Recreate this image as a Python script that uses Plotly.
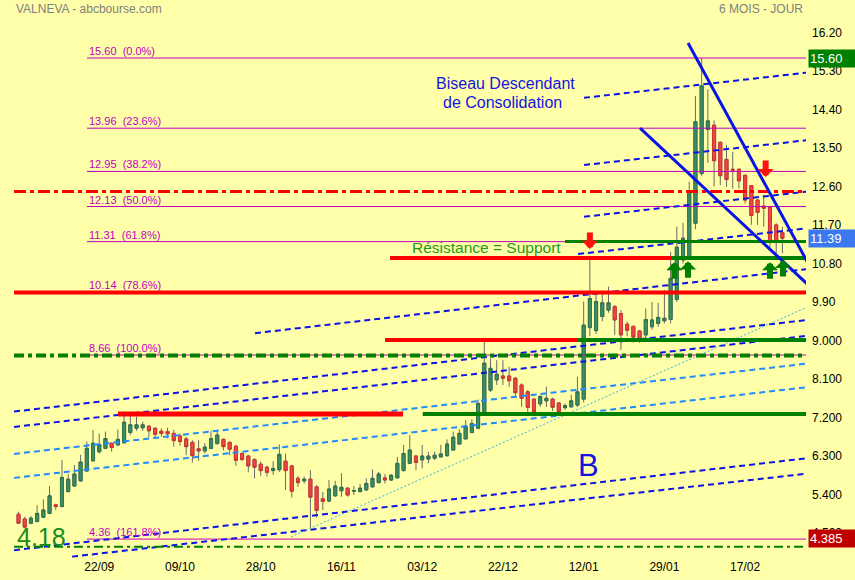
import pandas as pd
import plotly.graph_objects as go

# ---------------- data ----------------
dates = [d for d in pd.bdate_range("2020-09-03", "2021-02-25")
         if d.strftime("%m-%d") not in ("12-25", "01-01")]
date_labels = [d.strftime("%d/%m") for d in dates]

opens = [4.94, 4.83, 4.73, 4.77, 4.87, 4.96, 5.16, 5.12, 5.47, 5.60,
         5.72, 5.95, 6.19, 6.40, 6.48, 6.60, 6.56, 6.61, 6.85, 6.95,
         6.96, 7.00, 6.95, 6.88, 6.87, 6.83, 6.77, 6.70, 6.62, 6.47,
         6.42, 6.48, 6.59, 6.69, 6.62, 6.53, 6.36, 6.30, 6.22, 6.11,
         6.04, 5.96, 5.98, 6.18, 6.07, 5.78, 5.72, 5.76, 5.58, 5.30,
         5.25, 5.37, 5.49, 5.55, 5.48, 5.47, 5.51, 5.58, 5.68, 5.79,
         5.74, 5.79, 5.96, 6.13, 6.30, 6.21, 6.23, 6.25, 6.28, 6.31,
         6.44, 6.58, 6.70, 6.85, 6.95, 7.30, 7.84, 8.08, 8.17, 8.17,
         8.12, 7.96, 7.80, 7.63, 7.52, 7.59, 7.63, 7.54, 7.43, 7.45,
         7.49, 7.63, 9.30, 9.23, 9.56, 9.71, 9.79, 9.63, 9.38, 9.33,
         9.22, 9.13, 9.32, 9.40, 9.46, 9.49, 9.96, 10.88, 10.96, 11.74,
         12.90, 13.93, 14.03, 13.63, 13.23, 13.00, 13.00, 12.86, 12.62, 12.28,
         12.14, 12.11, 11.70, 11.52]
highs = [5.00, 4.88, 4.90, 5.15, 5.29, 5.60, 5.19, 6.21, 5.88, 6.09,
         6.33, 6.64, 6.91, 6.83, 6.87, 6.61, 6.92, 7.34, 7.24, 7.22,
         7.10, 7.02, 6.97, 6.95, 6.96, 6.91, 6.83, 6.75, 6.67, 6.67,
         6.60, 6.89, 6.91, 6.71, 6.64, 6.56, 6.39, 6.32, 6.25, 6.17,
         6.07, 6.18, 6.57, 6.36, 6.09, 5.83, 5.82, 5.97, 5.62, 5.46,
         5.74, 5.72, 5.90, 5.57, 5.60, 5.65, 5.78, 5.99, 5.93, 5.88,
         5.88, 6.28, 6.56, 6.79, 6.32, 6.56, 6.40, 6.40, 6.56, 6.69,
         6.87, 6.92, 7.14, 7.16, 7.62, 8.97, 8.58, 8.54, 8.54, 8.39,
         8.14, 8.00, 7.84, 7.63, 7.73, 7.92, 7.66, 7.56, 7.53, 7.73,
         8.15, 9.91, 10.90, 10.14, 10.10, 10.26, 9.83, 9.71, 9.44, 9.35,
         9.25, 9.75, 9.90, 9.88, 10.18, 11.07, 11.66, 11.75, 12.71, 14.71,
         15.60, 14.87, 14.14, 13.65, 13.57, 13.41, 13.02, 12.87, 12.63, 12.30,
         12.40, 12.13, 11.74, 11.66]
lows = [4.72, 4.61, 4.72, 4.75, 4.85, 4.94, 5.04, 5.10, 5.45, 5.58,
        5.70, 5.93, 6.17, 6.36, 6.46, 6.40, 6.54, 6.59, 6.79, 6.89,
        6.89, 6.74, 6.71, 6.75, 6.71, 6.52, 6.54, 6.32, 6.15, 6.19,
        6.36, 6.46, 6.57, 6.43, 6.32, 6.07, 6.18, 5.92, 5.78, 5.84,
        5.82, 5.86, 5.93, 5.51, 5.33, 5.58, 5.66, 4.62, 4.86, 5.04,
        5.22, 5.35, 5.35, 5.35, 5.39, 5.45, 5.49, 5.57, 5.66, 5.66,
        5.72, 5.78, 5.94, 6.11, 5.97, 6.01, 6.13, 6.21, 6.27, 6.28,
        6.44, 6.57, 6.70, 6.83, 6.93, 7.25, 7.80, 7.96, 7.96, 7.92,
        7.69, 7.45, 7.30, 7.30, 7.45, 7.45, 7.35, 7.31, 7.38, 7.43,
        7.45, 7.55, 9.10, 9.15, 9.45, 9.65, 9.13, 8.78, 9.10, 8.95,
        8.95, 9.05, 9.25, 9.32, 9.40, 9.40, 9.90, 10.80, 10.90, 11.60,
        12.85, 13.15, 12.60, 12.63, 12.59, 12.55, 12.55, 12.20, 11.70, 11.70,
        11.66, 11.11, 11.04, 11.04]
closes = [4.73, 4.64, 4.85, 4.96, 5.04, 5.37, 5.12, 5.80, 5.76, 5.88,
          6.16, 6.48, 6.60, 6.57, 6.71, 6.50, 6.69, 7.09, 7.03, 7.03,
          7.03, 6.89, 6.81, 6.83, 6.82, 6.66, 6.64, 6.52, 6.31, 6.42,
          6.51, 6.71, 6.79, 6.52, 6.46, 6.20, 6.22, 6.07, 6.04, 5.96,
          5.92, 6.01, 6.34, 5.96, 5.48, 5.68, 5.76, 5.34, 5.03, 5.24,
          5.53, 5.60, 5.57, 5.39, 5.49, 5.55, 5.66, 5.78, 5.88, 5.74,
          5.85, 6.13, 6.36, 6.44, 6.15, 6.30, 6.30, 6.32, 6.35, 6.58,
          6.74, 6.83, 7.00, 7.06, 7.53, 8.47, 8.35, 8.21, 8.12, 8.06,
          7.78, 7.65, 7.44, 7.34, 7.69, 7.65, 7.44, 7.34, 7.48, 7.59,
          7.80, 9.36, 9.98, 9.91, 9.88, 9.88, 9.48, 9.13, 9.24, 9.08,
          9.02, 9.49, 9.48, 9.54, 9.52, 10.45, 11.18, 11.39, 12.48, 14.11,
          14.95, 14.13, 13.20, 12.85, 12.76, 12.98, 12.73, 12.28, 11.92, 11.99,
          12.09, 11.31, 11.31, 11.39]

tick_labels = ["22/09", "09/10", "28/10", "16/11", "03/12", "22/12", "12/01", "29/01", "17/02"]
y_tick_values = [16.2, 15.3, 14.4, 13.5, 12.6, 11.7, 10.8, 9.9, 9.0, 8.1, 7.2, 6.3, 5.4, 4.5]
y_tick_text = ["16.20", "15.30", "14.40", "13.50", "12.60", "11.70", "10.80", "9.90",
               "9.000", "8.100", "7.200", "6.300", "5.400", "4.500"]

fib_levels = [15.60, 13.96, 12.95, 12.13, 11.31, 10.14, 8.66, 4.36]
fib_pcts = ["0.0%", "23.6%", "38.2%", "50.0%", "61.8%", "78.6%", "100.0%", "161.8%"]

X_END = 127.0
# channel lines: (x0, y0, x1, y1)
dark_channels = [(91.06, 14.67, X_END, 15.26), (91.06, 13.10, X_END, 13.68),
                 (91.06, 11.89, X_END, 12.48), (90.10, 11.02, X_END, 11.62),
                 (38.08, 9.17, X_END, 10.67), (-0.72, 7.34, X_END, 9.48),
                 (-0.72, 6.98, X_END, 9.11), (-0.72, 4.10, X_END, 6.25),
                 (8.62, 3.95, X_END, 5.89)]
light_channels = [(-0.72, 6.35, X_END, 8.46), (-0.72, 5.79, X_END, 7.91)]
dotted_trend = (43.88, 4.41, X_END, 9.78)
wedge_lines = [(107.81, 15.95, X_END, 10.84), (100.08, 13.96, X_END, 10.32)]

# horizontal levels: (x0, x1, price, colour, width, dash)
h_levels = [
    (-0.72, X_END, 12.48, "#ff0000", 3, "12px,4px,4px,4px"),
    (-0.72, X_END, 8.65, "#008000", 4, "10px,4px,4px,4px"),
    (-0.72, X_END, 4.18, "#008000", 2, "9px,4px,3px,4px"),
    (-0.72, X_END, 10.12, "#ff0000", 4, "solid"),
    (59.82, 105.07, 10.93, "#ff0000", 4, "solid"),
    (105.07, X_END, 10.93, "#008000", 4, "solid"),
    (88.0, X_END, 11.31, "#008000", 3, "solid"),
    (59.02, 90.10, 9.01, "#ff0000", 4, "solid"),
    (90.10, X_END, 9.01, "#008000", 4, "solid"),
    (16.02, 61.92, 7.28, "#ff0000", 5, "solid"),
    (65.09, X_END, 7.28, "#008000", 4, "solid"),
]

# arrows: (x index, tip price)
red_arrows = [(92, 11.14), (120.3, 12.82)]
green_arrows = [(105.6, 10.83), (107.8, 10.85), (121.0, 10.83), (123.1, 10.88)]

# ---------------- figure ----------------
x = list(range(len(dates)))
body_hi = [max(o, c) for o, c in zip(opens, closes)]
body_lo = [min(o, c) for o, c in zip(opens, closes)]

fig = go.Figure()
wick = "#6a6a6a"
fig.add_trace(go.Candlestick(
    x=x, open=opens, high=highs, low=lows, close=closes,
    increasing=dict(line=dict(color=wick, width=1), fillcolor=wick),
    decreasing=dict(line=dict(color=wick, width=1), fillcolor=wick),
    whiskerwidth=0, showlegend=False, hoverinfo="skip"))
fig.add_trace(go.Candlestick(
    x=x, open=opens, high=body_hi, low=body_lo, close=closes,
    increasing=dict(line=dict(color="#2f7350", width=1), fillcolor="#3d8f62"),
    decreasing=dict(line=dict(color="#d23232", width=1), fillcolor="#f04646"),
    whiskerwidth=0, showlegend=False, text=date_labels, hoverinfo="text"))

def seg(x0, y0, x1, y1, color, width, dash):
    fig.add_trace(go.Scatter(x=[x0, x1], y=[y0, y1], mode="lines",
                             line=dict(color=color, width=width, dash=dash),
                             showlegend=False, hoverinfo="skip"))

for lv in fib_levels:
    seg(11.03, lv, X_END, lv, "#c000c0", 1, "solid")
for (a, b, c, d) in light_channels:
    seg(a, b, c, d, "#1e8cff", 2, "6px,4px")
for (a, b, c, d) in dark_channels:
    seg(a, b, c, d, "#0a14e6", 2, "6px,4px")
seg(*dotted_trend, "#3cb4dc", 1, "2px,2px")
for (x0, x1, p, col, w, dash) in h_levels:
    seg(x0, p, x1, p, col, w, dash)
for (a, b, c, d) in wedge_lines:
    seg(a, b, c, d, "#0a14e6", 3, "solid")

FONT = "Liberation Sans, Arial, sans-serif"
ann = []
for lv, pct in zip(fib_levels, fib_pcts):
    ann.append(dict(x=11.03, y=lv, xref="x", yref="y", text=f"{lv:.2f}  ({pct})",
                    showarrow=False, xanchor="left", yanchor="bottom", yshift=-1,
                    font=dict(family=FONT, size=11, color="#c000c0")))

for (xi, p) in red_arrows:
    ann.append(dict(x=xi, y=p, xref="x", yref="y", ax=0, ay=-18, text="",
                    showarrow=True, arrowhead=1, arrowsize=0.45, arrowwidth=6,
                    arrowcolor="#ff1010", standoff=0))
for (xi, p) in green_arrows:
    ann.append(dict(x=xi, y=p, xref="x", yref="y", ax=0, ay=18, text="",
                    showarrow=True, arrowhead=1, arrowsize=0.45, arrowwidth=6,
                    arrowcolor="#008000", standoff=0))

ann += [
    dict(x=0.017, y=0.984, xref="paper", yref="paper", text="VALNEVA - abcbourse.com",
         showarrow=False, xanchor="left", yanchor="middle",
         font=dict(family=FONT, size=12, color="#808080")),
    dict(x=0.999, y=0.984, xref="paper", yref="paper", text="6 MOIS - JOUR",
         showarrow=False, xanchor="right", yanchor="middle",
         font=dict(family=FONT, size=12, color="#808080")),
    dict(x=66.9, y=15.0, xref="x", yref="y", text="Biseau Descendant", showarrow=False,
         xanchor="left", yanchor="middle", font=dict(family=FONT, size=16, color="#1414e0")),
    dict(x=68.0, y=14.55, xref="x", yref="y", text="de Consolidation", showarrow=False,
         xanchor="left", yanchor="middle", font=dict(family=FONT, size=16, color="#1414e0")),
    dict(x=63.0, y=11.18, xref="x", yref="y", text="Résistance = Support", showarrow=False,
         xanchor="left", yanchor="middle", font=dict(family=FONT, size=15.5, color="#1e9a1e")),
    dict(x=91.7, y=6.09, xref="x", yref="y", text="B", showarrow=False,
         xanchor="center", yanchor="middle", font=dict(family=FONT, size=31, color="#1414e0")),
    dict(x=-0.5, y=4.40, xref="x", yref="y", text="4.18", showarrow=False,
         xanchor="left", yanchor="middle", font=dict(family=FONT, size=25, color="#1a8a1a")),
]
for val, txt, bg in [(15.60, "15.60", "#008000"), (11.39, "11.39", "#3c78f0"), (4.385, "4.385", "#c00000")]:
    ann.append(dict(x=1.0, y=val, xref="paper", yref="y", text=txt, showarrow=False,
                    xanchor="left", yanchor="middle", xshift=2, bgcolor=bg, borderpad=1,
                    width=44, align="left",
                    font=dict(family=FONT, size=13, color="#ffffff")))

tickvals = [date_labels.index(t) for t in tick_labels]

fig.update_layout(
    width=855, height=580,
    margin=dict(l=0, r=49, t=0, b=22),
    paper_bgcolor="#ffffaa", plot_bgcolor="#ffffaa",
    showlegend=False, annotations=ann,
    font=dict(family=FONT, size=12, color="#000000"),
    xaxis=dict(range=[-2.98, 126.8], tickvals=tickvals, ticktext=tick_labels,
               showgrid=False, zeroline=False, showline=False, ticks="",
               rangeslider=dict(visible=False),
               tickfont=dict(family=FONT, size=12, color="#000000")),
    yaxis=dict(range=[3.918, 16.955], side="right", tickvals=y_tick_values,
               ticktext=y_tick_text, showgrid=False, zeroline=False, showline=False,
               ticks="", ticklabelstandoff=5,
               tickfont=dict(family=FONT, size=12, color="#000000")),
)

fig.write_html("out.html", config={"displayModeBar": False},
               post_script="document.body.style.margin='0';document.body.style.background='#ffffaa';")
